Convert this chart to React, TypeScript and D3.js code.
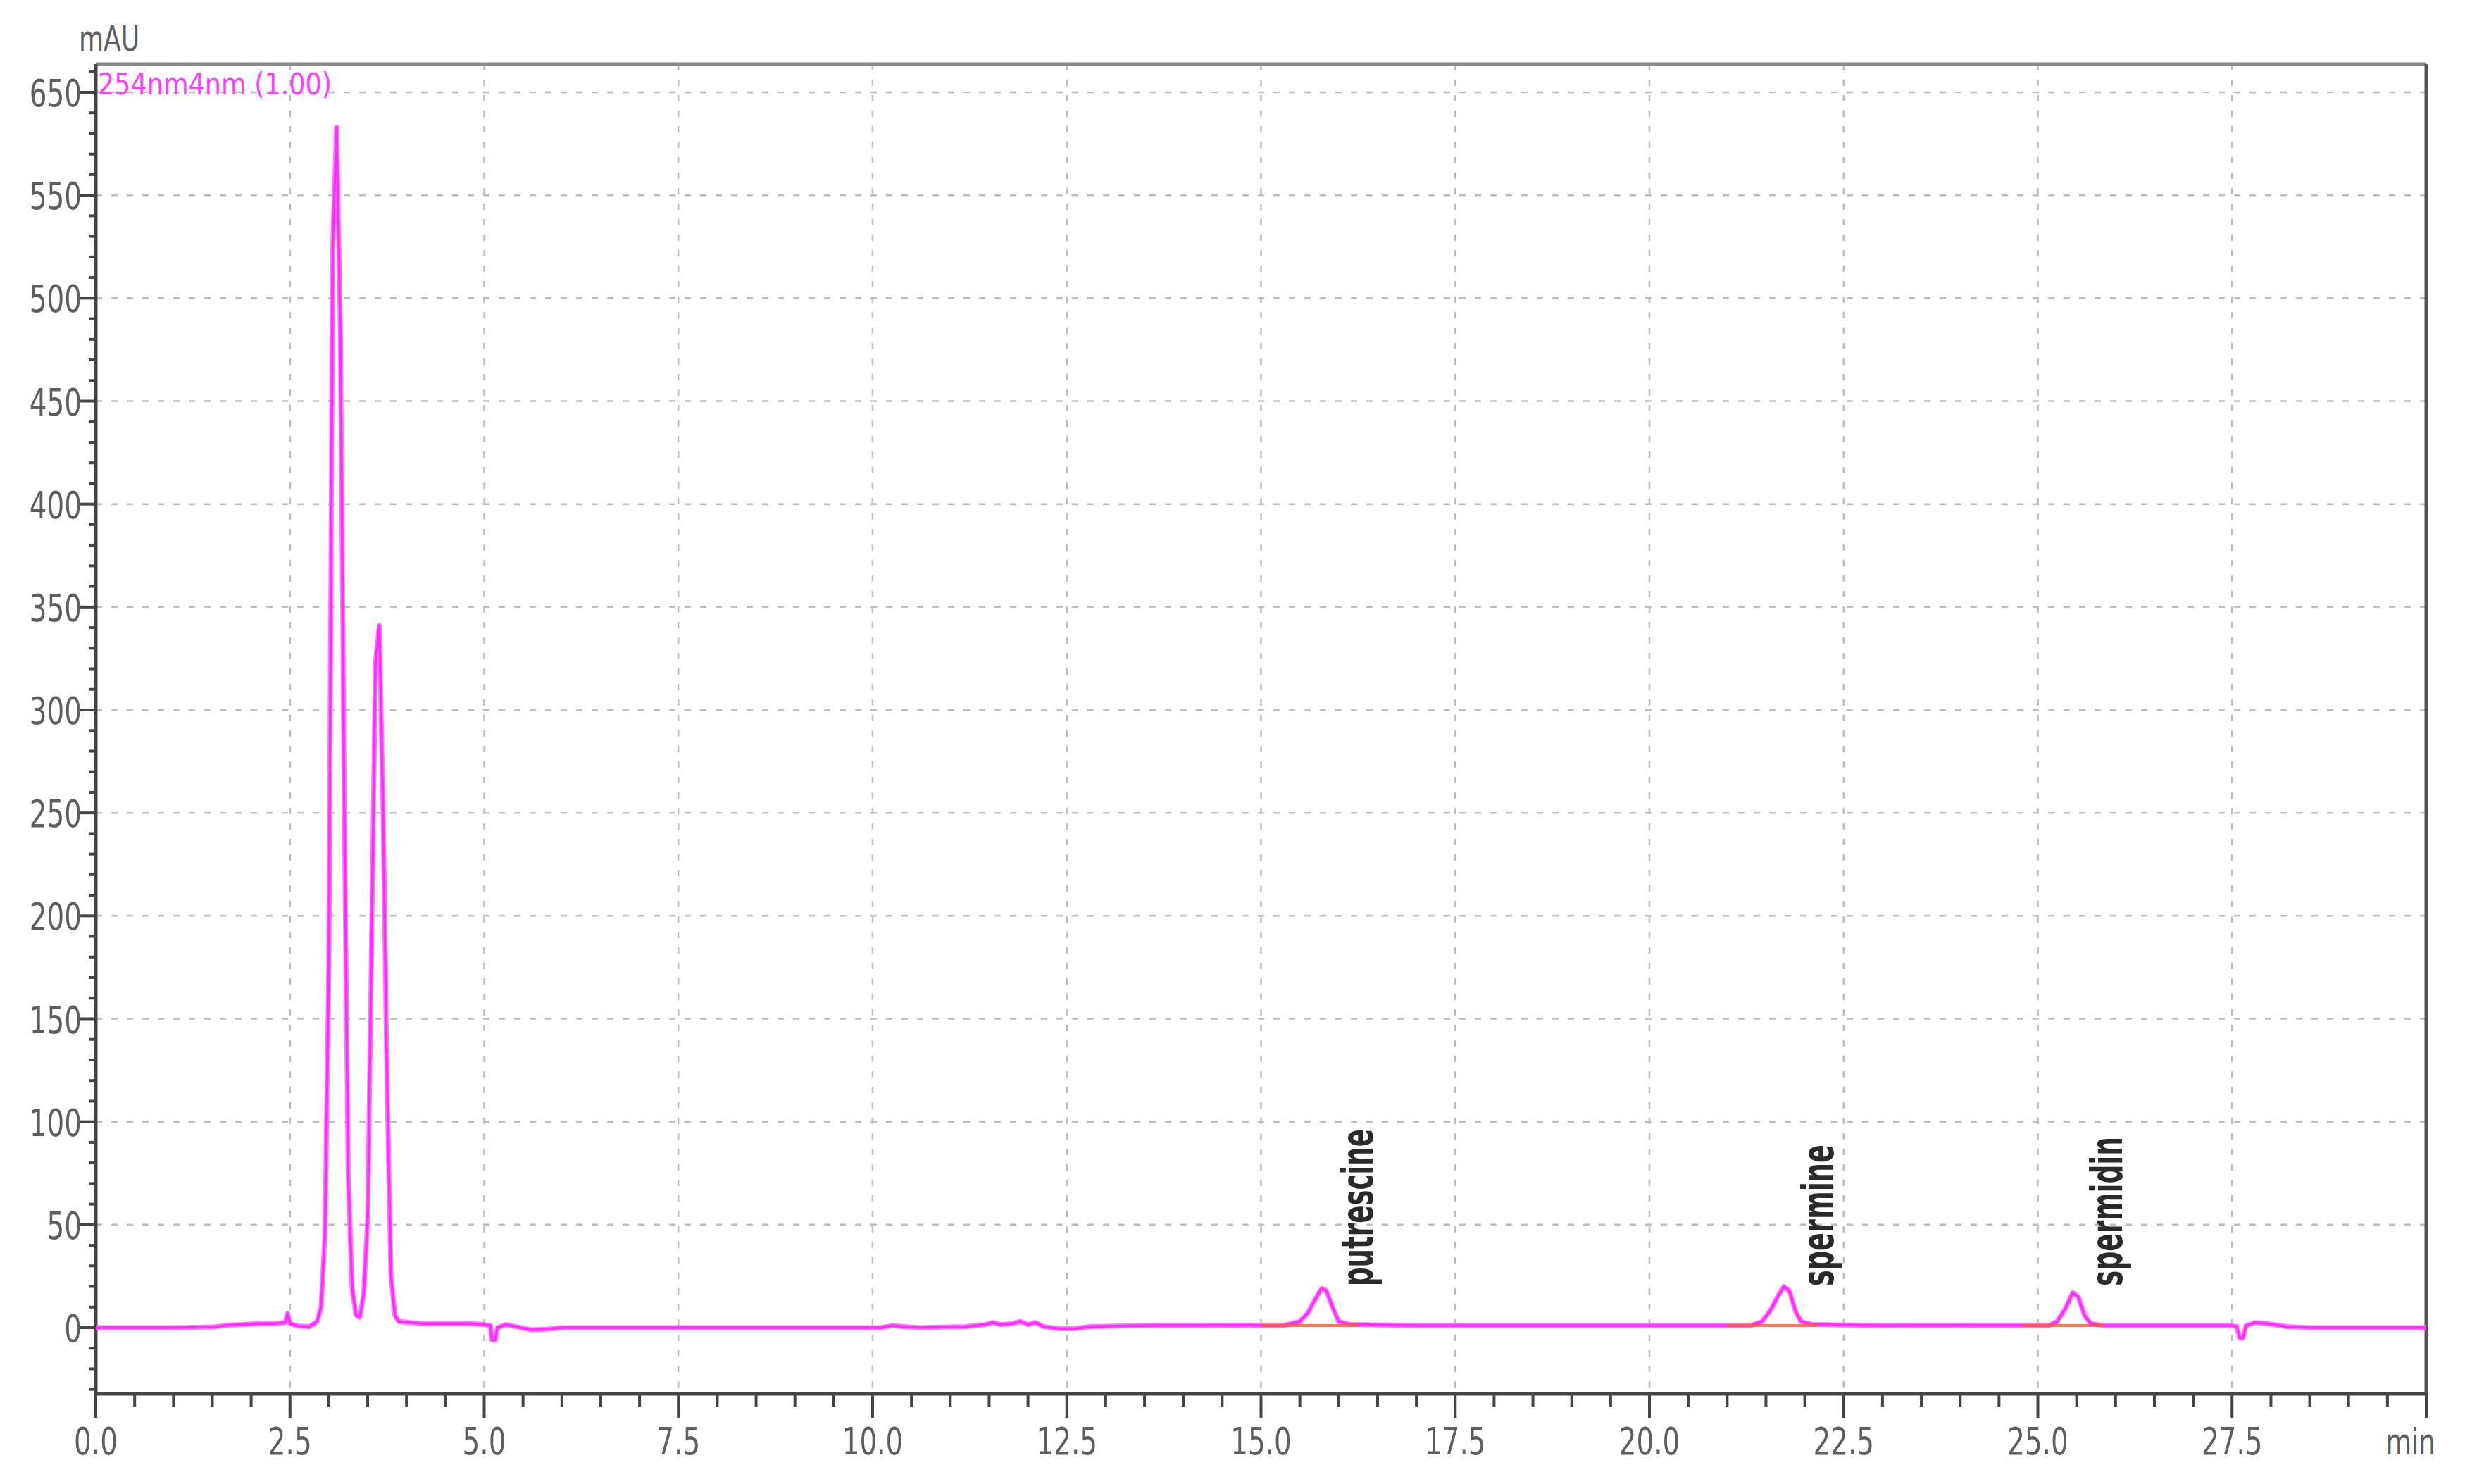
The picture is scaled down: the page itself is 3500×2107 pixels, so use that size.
import React from 'react';
import * as d3 from 'd3';

// ---------------- DATA ----------------
const retentionTime: number[] = [
  0, 1.0, 1.5, 1.7, 1.9, 2.1, 2.3, 2.44, 2.47, 2.5, 2.6, 2.75, 2.85,
  2.9, 2.95, 3.0, 3.05, 3.1, 3.15, 3.2, 3.25, 3.3, 3.35, 3.4, 3.45, 3.5,
  3.55, 3.6, 3.65, 3.7, 3.75, 3.8, 3.85, 3.9, 4.2, 4.8, 5.0, 5.08, 5.1,
  5.14, 5.17, 5.28, 5.4, 5.6, 5.8, 6.0, 10.1, 10.25, 10.4, 10.6, 11.2,
  11.45, 11.55, 11.65, 11.8, 11.9, 12.0, 12.1, 12.2, 12.4, 12.6, 12.8,
  13.5, 15.3, 15.5, 15.6, 15.7, 15.78, 15.84, 15.92, 16.0, 16.15, 17.0,
  21.3, 21.45, 21.55, 21.65, 21.73, 21.8, 21.88, 21.95, 22.1, 23.0,
  25.15, 25.25, 25.35, 25.45, 25.52, 25.6, 25.68, 25.85, 27.5, 27.56,
  27.6, 27.64, 27.68, 27.8, 27.95, 28.2, 28.5, 30.0,
];
const absorbance: number[] = [
  0, 0, 0.3, 1.2, 1.5, 2, 2, 2.5, 7, 2, 0.8, 0.5, 3,
  10, 45, 176, 525, 583, 481, 247, 73, 19, 6, 5, 17, 53,
  186, 323, 341, 247, 118, 25, 6, 3, 2, 2, 1.5, 1, -6,
  -6, 0, 1.5, 0.5, -1, -0.8, 0, 0, 1, 0.5, 0, 0.5,
  1.5, 2.5, 1.5, 2, 3, 1.5, 2.5, 0.5, -0.5, -0.5, 0.5,
  1, 1.2, 3, 7, 14, 19, 18, 10, 3, 1.5, 1,
  1, 3, 8, 15, 20, 18, 8, 3, 1.5, 1,
  1.2, 3, 9, 17, 15, 6, 2, 1, 1, 0.5,
  -5, -5, 1, 2.5, 2, 0.5, 0, 0,
];

const peakNames: string[] = ['putrescine', 'spermine', 'spermidin'];
const peakTimes: number[] = [15.8, 21.73, 25.45];
const baselineStart: number[] = [15.0, 21.0, 24.8];
const baselineEnd: number[] = [16.25, 22.17, 25.85];

const xMajorTicks: number[] = [0, 2.5, 5, 7.5, 10, 12.5, 15, 17.5, 20, 22.5, 25, 27.5, 30];
const xTickLabels: string[] = ['0.0', '2.5', '5.0', '7.5', '10.0', '12.5', '15.0', '17.5', '20.0', '22.5', '25.0', '27.5', ''];
const yMajorTicks: number[] = [0, 50, 100, 150, 200, 250, 300, 350, 400, 450, 500, 550, 600];
const yTickLabels: string[] = ['0', '50', '100', '150', '200', '250', '300', '350', '400', '450', '500', '550', '650'];

const channelLabel = '254nm4nm (1.00)';
const yUnit = 'mAU';
const xUnit = 'min';

// ---------------- LAYOUT ----------------
const W = 3500;
const H = 2107;
const L = 128;
const R = 3437;
const T = 83;
const B = 1971;
const Y0 = 1877;
const Y600 = 123;
const labelLengths = [223, 201, 212];

const FONT = '"Liberation Sans Narrow", "Arial Narrow", "DejaVu Sans Condensed", "Liberation Sans", sans-serif';

export default function App() {
  const x = d3.scaleLinear().domain([0, 30]).range([L, R]);
  const y = d3.scaleLinear().domain([0, 600]).range([Y0, Y600]);
  const yMin = y.invert(B);
  const yMax = y.invert(T);

  const pts: [number, number][] = retentionTime.map((t, i) => [t, absorbance[i]]);
  const line = d3
    .line<[number, number]>()
    .x((d) => x(d[0]))
    .y((d) => y(d[1]));

  const xMinor = d3.range(0, 30.001, 0.5).filter((v) => Math.abs(v / 2.5 - Math.round(v / 2.5)) > 1e-6);
  const yMinor = d3
    .range(Math.ceil(yMin / 10) * 10, yMax, 10)
    .filter((v) => v % 50 !== 0);

  const tickColor = '#444';
  const labelColor = '#5e5e5e';
  const gridColor = '#bdbdbd';
  const sx = 0.8;

  return (
    <svg width={W} height={H} viewBox={`0 0 ${W} ${H}`} style={{ display: 'block', background: '#fff' }}>
      <rect x={0} y={0} width={W} height={H} fill="#fff" />

      {/* grid */}
      <g stroke={gridColor} strokeWidth={2.5} strokeDasharray="9 13">
        {xMajorTicks
          .filter((v) => v > 0 && v < 30)
          .map((v) => (
            <line key={'gx' + v} x1={x(v)} x2={x(v)} y1={T} y2={B} />
          ))}
        {yMajorTicks
          .filter((v) => v > 0)
          .map((v) => (
            <line key={'gy' + v} x1={L} x2={R} y1={y(v)} y2={y(v)} />
          ))}
      </g>

      {/* frame */}
      <g fill="none" stroke={tickColor}>
        <line x1={L} x2={R} y1={T} y2={T} strokeWidth={5} stroke="#8a8a8a" />
        <line x1={R} x2={R} y1={T} y2={B} strokeWidth={5} stroke="#555" />
        <line x1={L} x2={L} y1={T} y2={B} strokeWidth={5} />
        <line x1={L} x2={R} y1={B} y2={B} strokeWidth={5} />
      </g>

      {/* y ticks */}
      <g stroke={tickColor} strokeWidth={4}>
        {yMajorTicks.map((v) => (
          <line key={'yt' + v} x1={L - 24} x2={L} y1={y(v)} y2={y(v)} />
        ))}
        {yMinor.map((v) => (
          <line key={'ym' + v} x1={L - 10} x2={L} y1={y(v)} y2={y(v)} />
        ))}
      </g>
      <g fill={labelColor} fontFamily={FONT} fontSize={54} textAnchor="end">
        {yMajorTicks.map((v, i) => (
          <text key={'yl' + v} transform={`translate(${L - 20},${y(v) + 20}) scale(${sx},1)`}>
            {yTickLabels[i]}
          </text>
        ))}
      </g>

      {/* x ticks */}
      <g stroke={tickColor} strokeWidth={4}>
        {xMajorTicks.map((v) => (
          <line key={'xt' + v} x1={x(v)} x2={x(v)} y1={B} y2={B + 34} />
        ))}
        {xMinor.map((v) => (
          <line key={'xm' + v} x1={x(v)} x2={x(v)} y1={B} y2={B + 18} />
        ))}
      </g>
      <g fill={labelColor} fontFamily={FONT} fontSize={54} textAnchor="middle">
        {xMajorTicks.map((v, i) =>
          xTickLabels[i] ? (
            <text key={'xl' + v} transform={`translate(${x(v)},2057) scale(${sx},1)`}>
              {xTickLabels[i]}
            </text>
          ) : null
        )}
      </g>
      <text transform={`translate(3450,2057) scale(${sx},1)`} fill={labelColor} fontFamily={FONT} fontSize={52} textAnchor="end">
        {xUnit}
      </text>
      <text transform={`translate(104,64) scale(${sx},1)`} fill={labelColor} fontFamily={FONT} fontSize={50}>
        {yUnit}
      </text>

      {/* chromatogram */}
      <path d={line(pts) || ''} fill="none" stroke="#ff66ff" strokeWidth={7} strokeLinejoin="round" opacity={0.9} />
      <path d={line(pts) || ''} fill="none" stroke="#ff2bff" strokeWidth={3.5} strokeLinejoin="round" />

      {/* integration baselines */}
      <g stroke="#ff5a3c" strokeWidth={4} opacity={0.85}>
        {baselineStart.map((s, i) => (
          <line key={'bl' + i} x1={x(s)} x2={x(baselineEnd[i])} y1={y(1)} y2={y(1)} />
        ))}
      </g>

      {/* peak labels */}
      <g fill="#2a2a2a" fontFamily={FONT} fontSize={62} fontWeight="bold">
        {peakNames.map((n, i) => {
          const px = x(peakTimes[i]) + 70;
          const py = 1818;
          return (
            <text
              key={n}
              transform={`translate(${px},${py}) rotate(-90)`}
              textLength={labelLengths[i]}
              lengthAdjust="spacingAndGlyphs"
            >
              {n}
            </text>
          );
        })}
      </g>

      {/* channel label */}
      <text x={131} y={126} fill="#ff3cff" fontFamily={FONT} fontSize={42} textLength={332} lengthAdjust="spacingAndGlyphs">
        {channelLabel}
      </text>
    </svg>
  );
}
